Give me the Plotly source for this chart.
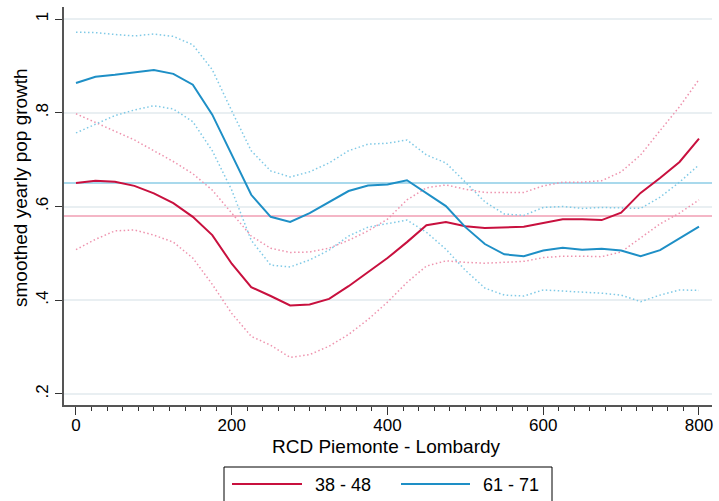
import plotly.graph_objects as go

# Distance grid (RCD Piemonte - Lombardy)
distance = [0, 25, 50, 75, 100, 125, 150, 175, 200, 225, 250, 275, 300, 325,
            350, 375, 400, 425, 450, 475, 500, 525, 550, 575, 600, 625, 650,
            675, 700, 725, 750, 775, 800]

# Cohort 38 - 48: smoothed estimate and confidence band
fit_38_48 = [0.650, 0.655, 0.653, 0.644, 0.628, 0.607, 0.578, 0.539, 0.478,
             0.428, 0.409, 0.389, 0.391, 0.403, 0.430, 0.460, 0.490, 0.524,
             0.560, 0.567, 0.558, 0.554, 0.556, 0.557, 0.565, 0.573, 0.573,
             0.571, 0.587, 0.629, 0.661, 0.695, 0.745]
hi_38_48 = [0.798, 0.779, 0.761, 0.742, 0.719, 0.696, 0.670, 0.635, 0.586,
            0.537, 0.511, 0.502, 0.503, 0.511, 0.528, 0.548, 0.573, 0.614,
            0.640, 0.646, 0.637, 0.630, 0.630, 0.630, 0.644, 0.652, 0.652,
            0.655, 0.674, 0.710, 0.762, 0.813, 0.871]
lo_38_48 = [0.508, 0.530, 0.548, 0.550, 0.539, 0.524, 0.490, 0.434, 0.372,
            0.323, 0.304, 0.278, 0.284, 0.302, 0.327, 0.359, 0.396, 0.438,
            0.473, 0.484, 0.481, 0.479, 0.481, 0.483, 0.491, 0.494, 0.494,
            0.493, 0.503, 0.533, 0.563, 0.586, 0.614]

# Cohort 61 - 71: smoothed estimate and confidence band
fit_61_71 = [0.8635, 0.877, 0.881, 0.886, 0.891, 0.883, 0.860, 0.796, 0.712,
             0.625, 0.578, 0.567, 0.586, 0.610, 0.633, 0.645, 0.647, 0.656,
             0.629, 0.601, 0.556, 0.520, 0.498, 0.494, 0.506, 0.512, 0.508,
             0.510, 0.506, 0.494, 0.507, 0.532, 0.557]
hi_61_71 = [0.972, 0.971, 0.967, 0.964, 0.968, 0.963, 0.945, 0.892, 0.804,
            0.719, 0.676, 0.663, 0.674, 0.693, 0.719, 0.733, 0.735, 0.742,
            0.710, 0.693, 0.652, 0.610, 0.584, 0.581, 0.598, 0.600, 0.596,
            0.598, 0.597, 0.596, 0.620, 0.652, 0.689]
lo_61_71 = [0.757, 0.776, 0.794, 0.806, 0.815, 0.808, 0.781, 0.719, 0.635,
            0.528, 0.475, 0.471, 0.486, 0.507, 0.537, 0.556, 0.563, 0.571,
            0.545, 0.509, 0.464, 0.426, 0.411, 0.409, 0.422, 0.420, 0.417,
            0.415, 0.411, 0.397, 0.411, 0.422, 0.421]

# Overall cohort means (horizontal reference lines)
mean_38_48 = 0.5797
mean_61_71 = 0.6503

series_names = ["38 - 48", "61 - 71"]
y_ticks = [0.2, 0.4, 0.6, 0.8, 1.0]
y_tick_text = [".2", ".4", ".6", ".8", "1"]
x_ticks = [0, 200, 400, 600, 800]

RED = "#C8103E"
BLUE = "#1E8FC6"
RED_LIGHT = "#EE93AE"
BLUE_LIGHT = "#7FC9E6"
RED_REF = "#F4B6C6"
BLUE_REF = "#A9D9EC"
FONT = "Liberation Sans, Arial, sans-serif"
DOTS = "1.5px,2.5px"

fig = go.Figure()

# reference lines for cohort means
for val, col in [(mean_61_71, BLUE_REF), (mean_38_48, RED_REF)]:
    fig.add_hline(y=val, line=dict(color=col, width=2), layer="below")

# confidence bands (dotted)
for ys, col in [(hi_38_48, RED_LIGHT), (lo_38_48, RED_LIGHT),
                (hi_61_71, BLUE_LIGHT), (lo_61_71, BLUE_LIGHT)]:
    fig.add_trace(go.Scatter(x=distance, y=ys, mode="lines", showlegend=False,
                             line=dict(color=col, width=1.5, dash=DOTS),
                             hoverinfo="skip"))

# smoothed estimates
fig.add_trace(go.Scatter(x=distance, y=fit_38_48, mode="lines", name=series_names[0],
                         line=dict(color=RED, width=2), showlegend=False))
fig.add_trace(go.Scatter(x=distance, y=fit_61_71, mode="lines", name=series_names[1],
                         line=dict(color=BLUE, width=2), showlegend=False))

W, H = 719, 501
L, R, T, B = 64, 7, 7, 96
pw, ph = W - L - R, H - T - B


def px(xp):
    return (xp - L) / pw


def py(yp):
    return (H - B - yp) / ph


fig.update_layout(
    width=W, height=H,
    margin=dict(l=L, r=R, t=T, b=B, pad=0),
    paper_bgcolor="white", plot_bgcolor="white",
    font=dict(family=FONT, size=17, color="black"),
    showlegend=False,
    xaxis=dict(
        range=[-15.4, 816.7], tickvals=x_ticks, ticks="outside", ticklen=8,
        tickwidth=1.2, tickcolor="#333", showline=True, linecolor="#555",
        linewidth=1.5, showgrid=False, zeroline=False, ticklabelstandoff=-4,
        tickfont=dict(size=17, family=FONT),
        minor=dict(dtick=20, tick0=0, ticks="outside", ticklen=4,
                   tickwidth=1, tickcolor="#333", showgrid=False),
    ),
    yaxis=dict(
        range=[0.1765, 1.0257], tickvals=y_ticks, ticktext=y_tick_text,
        tickangle=-90, ticks="outside", ticklen=7, tickwidth=1.2,
        tickcolor="#333", showline=True, linecolor="#555", linewidth=1.5,
        showgrid=True, gridcolor="#E9EFF2", gridwidth=1.5, zeroline=False,
        tickfont=dict(size=17, family=FONT),
    ),
)

# axis titles
fig.add_annotation(text="RCD Piemonte - Lombardy", xref="paper", yref="paper",
                   x=px(386), y=py(446), showarrow=False,
                   font=dict(size=19, family=FONT), xanchor="center", yanchor="middle")
fig.add_annotation(text="smoothed yearly pop growth", xref="paper", yref="paper",
                   x=px(20), y=py(188), showarrow=False, textangle=-90,
                   font=dict(size=19, family=FONT), xanchor="center", yanchor="middle")

# legend box
fig.add_shape(type="rect", xref="paper", yref="paper",
              x0=px(224), x1=px(552), y0=py(467), y1=py(515),
              line=dict(color="black", width=1), fillcolor="white")
for (x0, x1, tx, col, name) in [(232, 302, 313, RED, series_names[0]),
                                (401, 470, 481, BLUE, series_names[1])]:
    fig.add_shape(type="line", xref="paper", yref="paper",
                  x0=px(x0), x1=px(x1), y0=py(484), y1=py(484),
                  line=dict(color=col, width=2))
    fig.add_annotation(text=name, xref="paper", yref="paper", x=px(tx), y=py(485),
                       showarrow=False, xanchor="left", yanchor="middle",
                       font=dict(size=18, family=FONT))

fig.write_html("out.html")
